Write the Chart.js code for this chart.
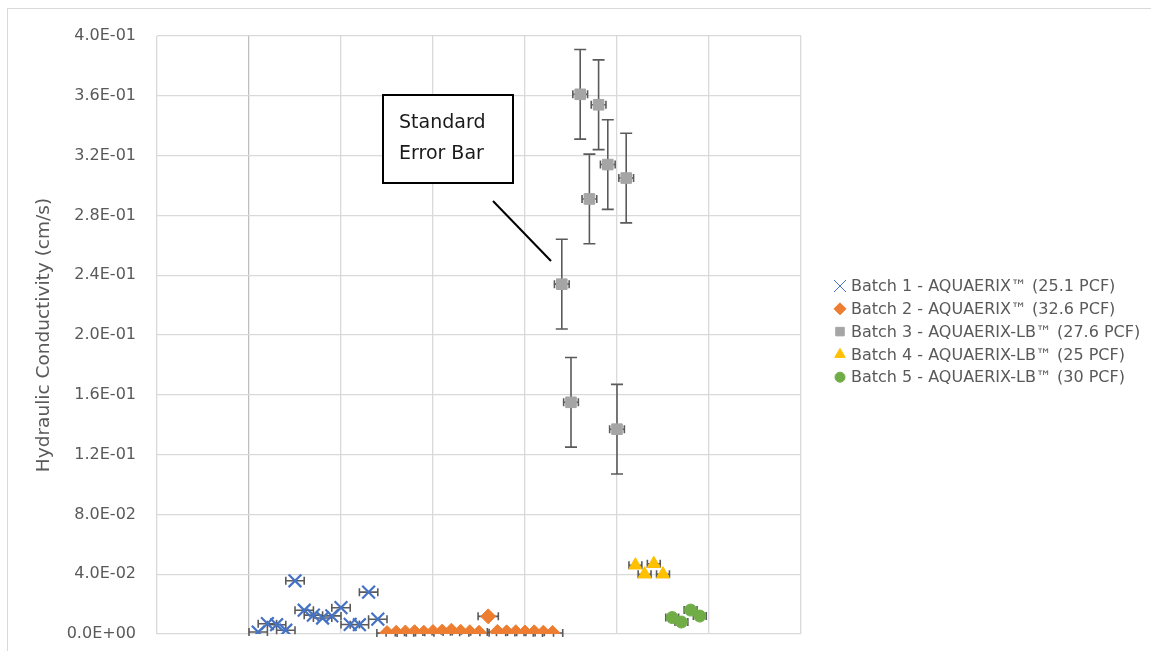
<!DOCTYPE html>
<html>
<head>
<meta charset="utf-8">
<script src="https://cdn.jsdelivr.net/npm/chart.js@4.4.1/dist/chart.umd.min.js"></script>
<style>
  html, body { margin: 0; padding: 0; background: #fff; }
  #wrap { position: relative; width: 1151px; height: 651px; overflow: hidden; }
  #frame { position: absolute; left: 7px; top: 8px; width: 1160px; height: 660px; border: 1px solid #D9D9D9; box-sizing: border-box; }
  canvas { position: absolute; left: 0; top: 0; }
</style>
</head>
<body>
<div id="wrap">
  <div id="frame"></div>
  <canvas id="chart" width="1151" height="651"></canvas>
</div>
<script>
// sample position along the x axis (no labels shown), hydraulic conductivity (cm/s)
const batch1X = [0.1, 0.2, 0.3, 0.4, 0.5, 0.6, 0.7, 0.8, 0.9, 1.0, 1.1, 1.2, 1.3, 1.4];
const batch1Y = [0.0013, 0.0069, 0.0062, 0.0025, 0.0356, 0.0159, 0.0126, 0.0107, 0.0121, 0.0176, 0.0064, 0.0062, 0.0280, 0.0099];

const batch2X = [1.5, 1.6, 1.7, 1.8, 1.9, 2.0, 2.1, 2.2, 2.3, 2.4, 2.5, 2.6, 2.7, 2.8, 2.9, 3.0, 3.1, 3.2, 3.3];
const batch2Y = [0.0006, 0.0008, 0.0010, 0.0012, 0.0009, 0.0013, 0.0016, 0.0022, 0.0015, 0.0012, 0.0008, 0.0118, 0.0014, 0.0011, 0.0012, 0.0010, 0.0011, 0.0009, 0.0007];

const batch3X = [3.4, 3.5, 3.6, 3.7, 3.8, 3.9, 4.0, 4.1];
const batch3Y = [0.234, 0.155, 0.361, 0.291, 0.354, 0.314, 0.137, 0.305];
const batch3Err = [0.030, 0.030, 0.030, 0.030, 0.030, 0.030, 0.030, 0.030];

const batch4X = [4.2, 4.3, 4.4, 4.5];
const batch4Y = [0.046, 0.040, 0.047, 0.040];

const batch5X = [4.6, 4.7, 4.8, 4.9];
const batch5Y = [0.011, 0.008, 0.016, 0.012];

const yTicks = [0, 0.04, 0.08, 0.12, 0.16, 0.20, 0.24, 0.28, 0.32, 0.36, 0.40];

const FONT = "'DejaVu Sans', 'Liberation Sans', sans-serif";
const TEXT = '#595959';
const ERR = '#5A5A5A';

function pts(xs, ys) {
  return xs.map((x, i) => ({ x, y: ys[i] }));
}

// "4.0E-01" style, like the spreadsheet axis
function sci(v) {
  if (v === 0) return '0.0E+00';
  let e = Math.floor(Math.log10(Math.abs(v)) + 1e-9);
  let m = v / Math.pow(10, e);
  if (Math.abs(m) >= 9.95) { m /= 10; e += 1; }
  const sign = e < 0 ? '-' : '+';
  return m.toFixed(1) + 'E' + sign + String(Math.abs(e)).padStart(2, '0');
}

const datasets = [
  { label: 'Batch 1 - AQUAERIX™ (25.1 PCF)', data: pts(batch1X, batch1Y), pointStyle: 'crossRot', radius: 9,
    borderColor: '#4472C4', backgroundColor: '#4472C4', pointBorderWidth: 2.2, xErr: 0.1, yErr: null },
  { label: 'Batch 2 - AQUAERIX™ (32.6 PCF)', data: pts(batch2X, batch2Y), pointStyle: 'rectRot', radius: 7.5,
    borderColor: '#ED7D31', backgroundColor: '#ED7D31', pointBorderWidth: 1, xErr: 0.11, yErr: null },
  { label: 'Batch 3 - AQUAERIX-LB™ (27.6 PCF)', data: pts(batch3X, batch3Y), pointStyle: 'rect', radius: 7.5,
    borderColor: '#A5A5A5', backgroundColor: '#A5A5A5', pointBorderWidth: 1, xErr: 0.08, yErr: batch3Err },
  { label: 'Batch 4 - AQUAERIX-LB™ (25 PCF)', data: pts(batch4X, batch4Y), pointStyle: 'triangle', radius: 7.5,
    borderColor: '#FFC000', backgroundColor: '#FFC000', pointBorderWidth: 1, xErr: 0.07, yErr: null },
  { label: 'Batch 5 - AQUAERIX-LB™ (30 PCF)', data: pts(batch5X, batch5Y), pointStyle: 'circle', radius: 6,
    borderColor: '#70AD47', backgroundColor: '#70AD47', pointBorderWidth: 1, xErr: 0.07, yErr: null }
];

// error bars go under the markers
const errorBars = {
  id: 'errorBars',
  beforeDatasetsDraw(chart) {
    const { ctx, scales: { x, y } } = chart;
    ctx.save();
    ctx.strokeStyle = ERR;
    ctx.lineWidth = 1.6;
    ctx.beginPath();
    chart.data.datasets.forEach(ds => {
      ds.data.forEach((p, i) => {
        const px = x.getPixelForValue(p.x);
        const py = y.getPixelForValue(p.y);
        if (ds.xErr) {
          const l = x.getPixelForValue(p.x - ds.xErr);
          const r = x.getPixelForValue(p.x + ds.xErr);
          ctx.moveTo(l, py); ctx.lineTo(r, py);
          ctx.moveTo(l, py - 4); ctx.lineTo(l, py + 4);
          ctx.moveTo(r, py - 4); ctx.lineTo(r, py + 4);
        }
        if (ds.yErr) {
          const t = y.getPixelForValue(p.y + ds.yErr[i]);
          const b = y.getPixelForValue(p.y - ds.yErr[i]);
          ctx.moveTo(px, t); ctx.lineTo(px, b);
          ctx.moveTo(px - 6, t); ctx.lineTo(px + 6, t);
          ctx.moveTo(px - 6, b); ctx.lineTo(px + 6, b);
        }
      });
    });
    ctx.stroke();
    ctx.restore();
  }
};

// legend on the right, drawn with the datasets' own point styles
const sideLegend = {
  id: 'sideLegend',
  afterDraw(chart) {
    const { ctx } = chart;
    ctx.save();
    ctx.font = '16px ' + FONT;
    ctx.textBaseline = 'middle';
    ctx.textAlign = 'left';
    chart.data.datasets.forEach((ds, i) => {
      const y = 286 + i * 22.8;
      ctx.fillStyle = ds.backgroundColor;
      ctx.strokeStyle = ds.borderColor;
      const cross = ds.pointStyle === 'crossRot';
      Chart.helpers.drawPoint(ctx, {
        pointStyle: ds.pointStyle, rotation: 0,
        radius: cross ? 8.5 : ds.pointStyle === 'circle' ? 5 : 6,
        borderWidth: cross ? 1.6 : 1
      }, 840, y);
      ctx.fillStyle = TEXT;
      ctx.fillText(ds.label, 851, y + 1);
    });
    ctx.restore();
  }
};

// annotation box + leader line
const callout = {
  id: 'callout',
  afterDraw(chart) {
    const { ctx } = chart;
    ctx.save();
    ctx.fillStyle = '#fff';
    ctx.fillRect(383, 95, 130, 88);
    ctx.strokeStyle = '#000';
    ctx.lineWidth = 2;
    ctx.strokeRect(383, 95, 130, 88);
    ctx.beginPath();
    ctx.moveTo(493, 201);
    ctx.lineTo(551, 261);
    ctx.stroke();
    ctx.fillStyle = '#1a1a1a';
    ctx.font = '19px ' + FONT;
    ctx.textBaseline = 'alphabetic';
    ctx.fillText('Standard', 399, 128);
    ctx.fillText('Error Bar', 399, 159);
    ctx.restore();
  }
};

new Chart(document.getElementById('chart'), {
  type: 'scatter',
  data: { datasets },
  plugins: [errorBars, sideLegend, callout],
  options: {
    responsive: false,
    animation: false,
    layout: { padding: { left: 0, top: 36, right: 350, bottom: 17 } },
    plugins: { legend: { display: false }, tooltip: { enabled: false } },
    scales: {
      x: {
        type: 'linear', min: -1, max: 6,
        ticks: { display: false, stepSize: 1 },
        grid: { color: c => c.tick && c.tick.value === 0 ? '#BFBFBF' : '#D9D9D9', lineWidth: 1.3, drawTicks: false },
        border: { display: false },
        afterFit: s => { s.height = 0; }
      },
      y: {
        type: 'linear', min: 0, max: 0.4,
        afterBuildTicks: s => { s.ticks = yTicks.map(v => ({ value: v })); },
        ticks: { color: TEXT, padding: 21, font: { family: FONT, size: 16 }, callback: v => sci(v) },
        grid: { color: '#D9D9D9', lineWidth: 1.3, drawTicks: false },
        border: { display: false },
        title: { display: true, text: 'Hydraulic Conductivity (cm/s)', color: TEXT,
                 font: { family: FONT, size: 18.5 }, padding: { top: 33, bottom: 0 } },
        afterFit: s => { s.width = 157; s.paddingTop = 0; s.paddingBottom = 0; }
      }
    }
  }
});
</script>
</body>
</html>
